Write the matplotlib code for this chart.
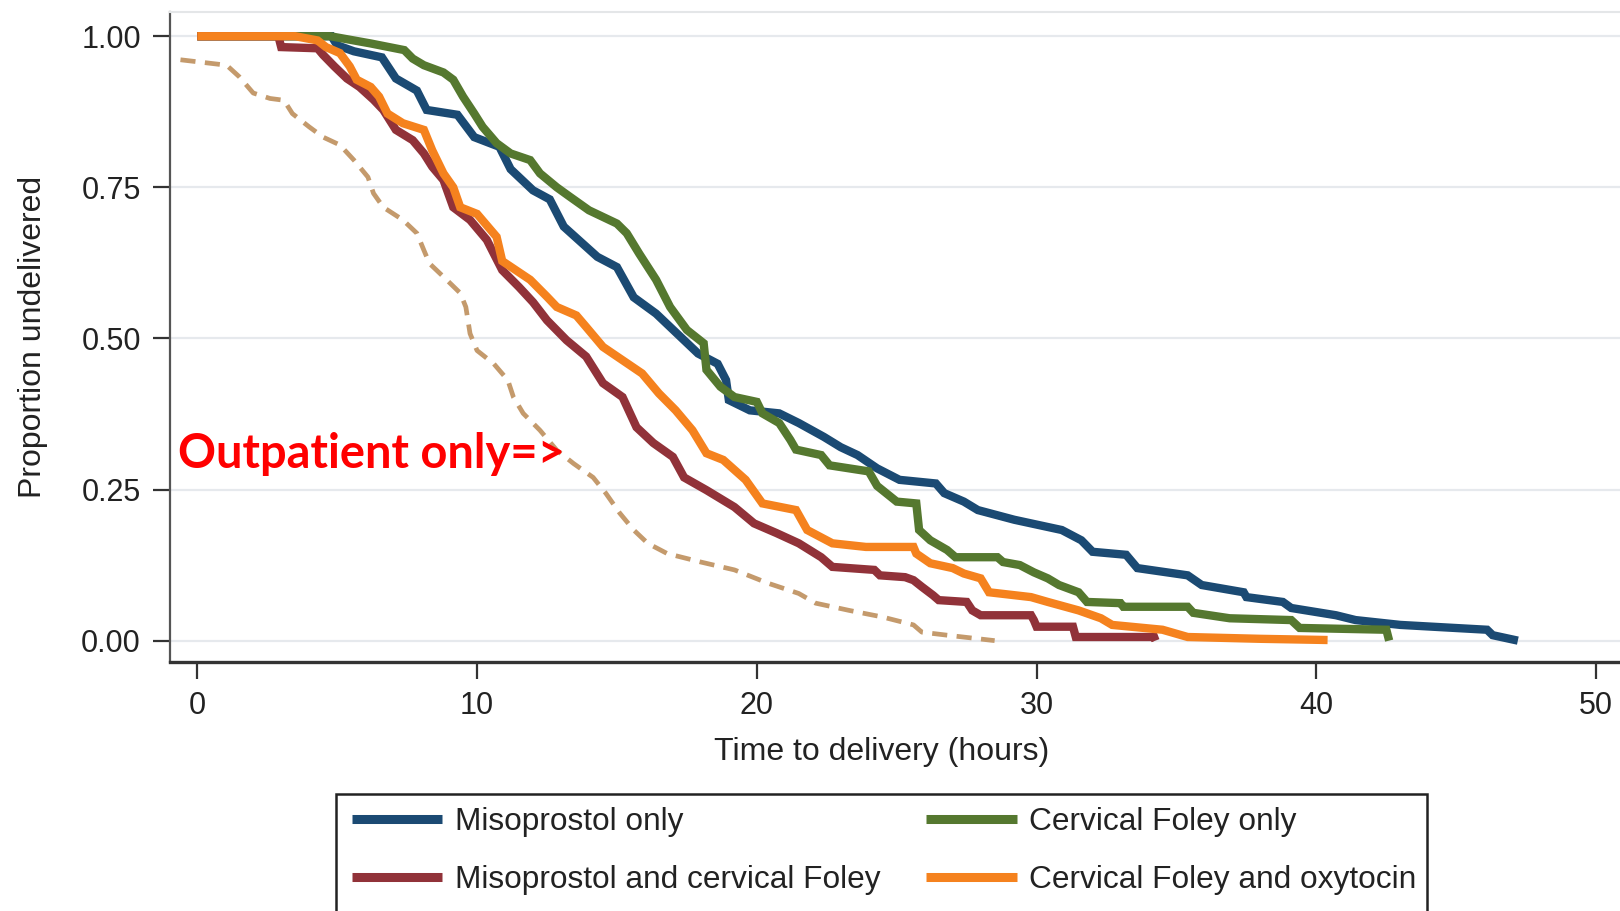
import matplotlib
matplotlib.use("Agg")
import matplotlib.pyplot as plt
from matplotlib.lines import Line2D
from matplotlib.patches import Rectangle

# Kaplan-Meier curves, corner points (hours, proportion undelivered)
miso_t = [0, 4.8, 5.0, 5.6, 6.6, 7.1, 7.85, 8.2, 9.3, 9.9, 10.8, 11.2, 12.0, 12.6, 13.1, 14.3,
          15.0, 15.6, 16.4, 17.4, 17.9, 18.6, 18.9, 19.0, 19.75, 20.8, 21.5, 22.4, 23.0, 23.6,
          24.3, 25.1, 26.4, 26.7, 27.4, 27.9, 29.2, 30.9, 31.6, 32.0, 33.2, 33.6, 35.4, 35.9,
          37.4, 37.5, 38.8, 39.1, 40.7, 41.4, 43.0, 46.1, 46.3, 47.2]
miso_s = [1.0, 1.0, 0.985, 0.975, 0.965, 0.93, 0.91, 0.878, 0.87, 0.833, 0.817, 0.78, 0.745, 0.73,
          0.685, 0.635, 0.618, 0.568, 0.541, 0.497, 0.475, 0.458, 0.431, 0.398, 0.381, 0.376,
          0.36, 0.337, 0.32, 0.307, 0.285, 0.266, 0.26, 0.244, 0.23, 0.216, 0.2, 0.183, 0.166,
          0.147, 0.142, 0.12, 0.108, 0.092, 0.08, 0.072, 0.064, 0.054, 0.042, 0.034, 0.026,
          0.018, 0.009, 0.0]

foley_t = [0, 4.75, 6.2, 7.4, 7.7, 8.1, 8.8, 9.15, 9.5, 9.9, 10.2, 10.7, 11.2, 11.9, 12.25, 12.85,
           13.3, 14.0, 15.0, 15.35, 15.8, 16.4, 16.9, 17.5, 18.1, 18.2, 18.7, 19.2, 20.0, 20.2,
           20.8, 21.2, 21.4, 22.3, 22.6, 24.0, 24.3, 25.0, 25.7, 25.8, 26.2, 26.8, 27.1, 28.6,
           28.8, 29.4, 29.9, 30.4, 30.8, 31.5, 31.8, 33.0, 33.1, 35.4, 35.6, 36.9, 39.1, 39.4,
           42.5, 42.6]
foley_s = [1.0, 1.0, 0.988, 0.977, 0.963, 0.952, 0.94, 0.928, 0.9, 0.872, 0.85, 0.823, 0.806,
           0.795, 0.773, 0.75, 0.735, 0.712, 0.69, 0.674, 0.64, 0.597, 0.552, 0.514, 0.492, 0.448,
           0.42, 0.403, 0.395, 0.376, 0.36, 0.332, 0.316, 0.307, 0.29, 0.28, 0.256, 0.23, 0.227,
           0.183, 0.166, 0.15, 0.138, 0.138, 0.13, 0.125, 0.113, 0.103, 0.092, 0.08, 0.064, 0.062,
           0.056, 0.056, 0.046, 0.037, 0.034, 0.021, 0.018, 0.0]

misofol_t = [0, 2.9, 3.0, 4.3, 4.5, 4.9, 5.35, 5.8, 6.3, 6.65, 7.1, 7.7, 8.1, 8.4, 8.8, 9.15, 9.75,
             10.35, 10.9, 11.5, 12.0, 12.5, 13.2, 13.9, 14.5, 15.2, 15.7, 16.3, 17.0, 17.4, 18.2,
             19.2, 19.9, 20.7, 21.5, 22.3, 22.7, 24.2, 24.4, 25.3, 25.6, 25.9, 26.3, 26.5, 27.5,
             27.7, 28.0, 29.8, 29.9, 30.0, 31.3, 31.4, 34.2, 34.25]
misofol_s = [1.0, 1.0, 0.982, 0.98, 0.969, 0.95, 0.93, 0.916, 0.895, 0.878, 0.845, 0.828, 0.806,
             0.784, 0.762, 0.717, 0.696, 0.663, 0.613, 0.585, 0.56, 0.53, 0.497, 0.47, 0.426,
             0.403, 0.353, 0.327, 0.304, 0.27, 0.249, 0.221, 0.194, 0.178, 0.161, 0.138, 0.122,
             0.117, 0.108, 0.105, 0.1, 0.089, 0.075, 0.067, 0.064, 0.05, 0.042, 0.042, 0.034,
             0.023, 0.023, 0.006, 0.006, 0.0]

oxy_t = [0, 3.5, 4.3, 4.6, 5.1, 5.45, 5.7, 6.2, 6.5, 6.8, 7.35, 8.1, 8.4, 8.8, 9.15, 9.4, 10.0,
         10.7, 10.9, 11.9, 12.5, 12.85, 13.55, 13.9, 14.5, 15.2, 15.9, 16.5, 17.1, 17.7, 18.2,
         18.8, 19.6, 20.2, 21.4, 21.8, 22.7, 23.9, 25.6, 25.7, 26.2, 27.0, 27.4, 28.0, 28.3,
         29.8, 30.4, 31.5, 32.3, 32.7, 34.5, 35.4, 38.0, 40.4]
oxy_s = [1.0, 1.0, 0.993, 0.982, 0.972, 0.95, 0.928, 0.916, 0.9, 0.872, 0.856, 0.845, 0.811, 0.773,
         0.75, 0.717, 0.706, 0.668, 0.628, 0.597, 0.569, 0.552, 0.538, 0.519, 0.486, 0.464, 0.442,
         0.409, 0.381, 0.348, 0.31, 0.299, 0.266, 0.227, 0.216, 0.183, 0.161, 0.155, 0.155, 0.144,
         0.128, 0.12, 0.111, 0.103, 0.08, 0.072, 0.064, 0.05, 0.037, 0.026, 0.018, 0.006, 0.003,
         0.001]

# outpatient curve (dashed)
outp_t = [-0.6, 1.05, 1.5, 2.0, 2.6, 3.1, 3.4, 4.0, 4.5, 5.1, 5.6, 6.1, 6.3, 6.65, 7.35, 7.85,
          8.1, 8.3, 8.8, 9.4, 9.6, 9.75, 10.0, 10.6, 11.1, 11.3, 11.65, 12.25, 12.85, 13.45,
          14.15, 14.6, 15.1, 15.6, 16.1, 16.8, 18.0, 19.2, 20.4, 21.5, 22.1, 23.3, 24.5, 25.6,
          25.9, 26.8, 28.5]
outp_s = [0.961, 0.952, 0.933, 0.906, 0.897, 0.894, 0.872, 0.85, 0.833, 0.82, 0.795, 0.767, 0.74,
          0.717, 0.696, 0.674, 0.646, 0.624, 0.602, 0.575, 0.552, 0.508, 0.48, 0.458, 0.431,
          0.403, 0.376, 0.348, 0.315, 0.293, 0.27, 0.244, 0.211, 0.183, 0.161, 0.144, 0.13,
          0.117, 0.095, 0.078, 0.062, 0.05, 0.039, 0.026, 0.014, 0.009, 0.0]

labels = ["Misoprostol only", "Cervical Foley only",
          "Misoprostol and cervical Foley", "Cervical Foley and oxytocin"]
colors = ["#1b4a73", "#55782f", "#913239", "#f5821e"]
outp_color = "#c49a6c"

x_ticks = [0, 10, 20, 30, 40, 50]
y_ticks = [0.0, 0.25, 0.5, 0.75, 1.0]

plt.rcParams["font.family"] = ["Liberation Sans", "DejaVu Sans"]

fig = plt.figure(figsize=(16.2, 9.11), dpi=100)
ax = fig.add_axes([0.1049, 0.2733, 0.95, 0.7131])
ax.set_xlim(-0.976, 54.03)
ax.set_ylim(-0.0354, 1.0394)

for yv in y_ticks:
    ax.axhline(yv, color="#e6e9ed", lw=1.6, zorder=0)

curves = [(miso_t, miso_s), (foley_t, foley_s), (misofol_t, misofol_s), (oxy_t, oxy_s)]
for (t, s), c in zip(curves, colors):
    ax.plot(t, s, color=c, lw=6, solid_joinstyle="miter", solid_capstyle="butt", zorder=2)

ax.plot(outp_t, outp_s, color=outp_color, lw=3.4, dashes=(3.2, 2.0), zorder=3)

ax.text(-0.69, 0.2856, "Outpatient only=>", color="#ff0000", fontsize=33.8,
        fontweight="bold", family=["Lato", "DejaVu Sans"], ha="left", va="baseline", zorder=4)

ax.set_xticks(x_ticks)
ax.set_xticklabels([str(v) for v in x_ticks])
ax.set_yticks(y_ticks)
ax.set_yticklabels([f"{v:.2f}" for v in y_ticks])
ax.tick_params(axis="both", direction="out", length=12, width=1.6, colors="#333333",
               labelsize=22, pad=9, labelcolor="#222222")

ax.spines["top"].set_color("#e4e6e8")
ax.spines["top"].set_linewidth(1.5)
ax.spines["right"].set_visible(False)
ax.spines["left"].set_color("#555555")
ax.spines["left"].set_linewidth(1.6)
ax.spines["bottom"].set_color("#333333")
ax.spines["bottom"].set_linewidth(2.4)

ax.set_xlabel("Time to delivery (hours)", fontsize=23, color="#222222")
ax.xaxis.set_label_coords((853 * 1.0332 / 1620 - 0.1049) / 0.95, -0.115)
ax.set_ylabel("Proportion undelivered", fontsize=23, color="#222222")
ax.yaxis.set_label_coords(-0.079, 0.5)

# legend filled column by column -> order so rows read like the original
order = [0, 2, 1, 3]
handles = [Line2D([], [], color=colors[i], lw=6.5, solid_capstyle="butt") for i in order]
fig.legend(handles, [labels[i] for i in order], loc="upper left",
           bbox_to_anchor=(336 / 1620, 1 - 791 / 911), ncol=2, frameon=False, fontsize=22.8,
           handlelength=2.85, handletextpad=0.4, columnspacing=1.45, labelspacing=0.88,
           borderpad=0.5, borderaxespad=0, labelcolor="#222222")
# framed box runs past the bottom edge of the picture
fig.patches.append(Rectangle((336 / 1620, -0.1), (1427 - 336) / 1620, 0.1 + (911 - 793.5) / 911,
                             transform=fig.transFigure, fill=False, edgecolor="#222222", lw=1.8))

fig.savefig("out.png", dpi=100)
